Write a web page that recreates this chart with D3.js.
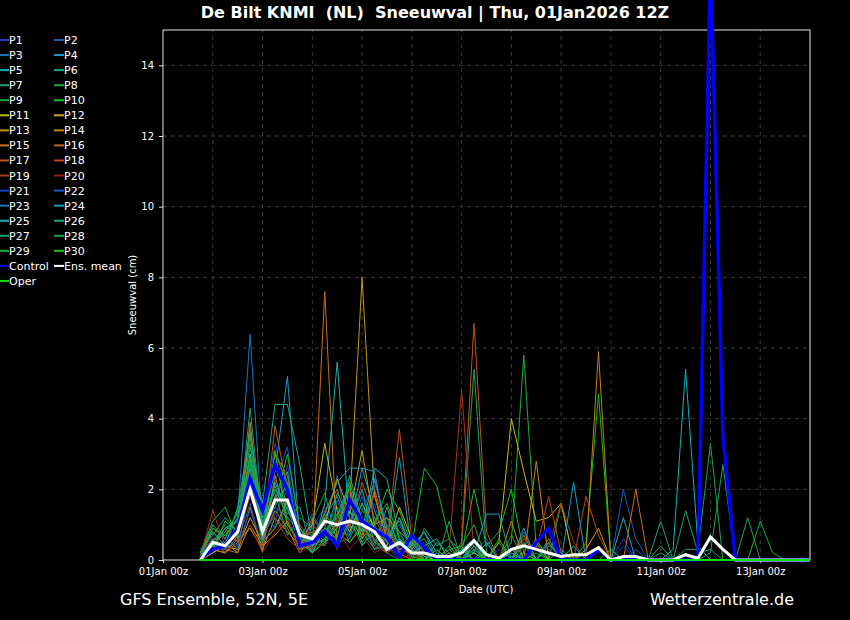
<!DOCTYPE html>
<html lang="nl">
<head>
<meta charset="UTF-8">
<title>De Bilt KNMI Sneeuwval</title>
<script src="https://cdn.jsdelivr.net/npm/d3@7"></script>
<style>
    body { margin: 0; background: #000; }
    #chart svg { display: block; background: #000; }
    svg text { font-family: "DejaVu Sans", "Liberation Sans", sans-serif; fill: #fff; }
    .grid line { stroke: #3a3a3a; stroke-dasharray: 4,4; }
    .axis path { display: none; }
    .axis line { stroke: #ddd; }
    .axis text { font-size: 10px; fill: #fff; }
</style>
</head>
<body>
<div id="chart"></div>
<script>
"use strict";

// 6-hourly steps, first value 01Jan 18z
var startTime = Date.UTC(2026, 0, 1, 18);
var stepCount = 50;

var memberNames = ['P1','P2','P3','P4','P5','P6','P7','P8','P9','P10',
                   'P11','P12','P13','P14','P15','P16','P17','P18','P19','P20',
                   'P21','P22','P23','P24','P25','P26','P27','P28','P29','P30'];

var memberColors = ['#1a3cc0','#1a58c0','#1a74b8','#1a9cc4','#18b0b4','#18a886','#18a266','#18a448','#18b032','#12c21a',
                    '#c2ba18','#c4a418','#c49412','#c48214','#c47212','#c46212','#c45414','#c44420','#a83622','#962014',
                    '#1a3cc0','#1a58c0','#1a74b8','#1a9cc4','#18b0b4','#18a886','#18a266','#18a448','#18b032','#12c21a'];

var p1  = [0.1,0.6,0.3,0.9,2.2,1.0,3.3,1.8,0.4,0.9, 1.5,0.6,1.9,1.2,0.5,0.2,0.6,0.1,0.3,0, 0,0,0.3,0,0,0.2,0,0,0,0, 0,0,0,0,0.6,0,0,0,0,0, 0,0,0,0,0,0,0,0,0,0];
var p2  = [0.2,0.4,0.8,0.5,1.6,0.3,2.2,3.2,0.8,0.2, 0.9,2.4,0.7,1.8,0.9,0.4,0.1,0.5,0,0, 0,0.2,0,0,0.1,0,0.8,0,0.3,0, 0,0,0.4,0,2.0,0.6,0,0,0,0, 0,0,0,0,0,0,0,0,0,0];
var p3  = [0.1,0.3,0.5,1.2,6.4,0.8,1.5,1.2,0.3,1.0, 0.6,1.3,2.0,0.4,0.8,0.2,0,0.6,0,0, 0.2,0,0,0,0,0,0,0.4,0,0, 0,0,0,0,0,0,0,0,0,0, 0,0,0,0,0,0,0,0,0,0];
var p4  = [0.2,0.5,0.2,0.7,3.0,1.2,2.5,5.2,0.6,0.4, 1.2,1.8,0.9,2.6,1.4,0.5,2.9,0.2,0.4,0, 0,0.3,0.6,0,0,0,0.2,0,0,0, 0,0,0,0,0,0,0,0,0,0, 0,0,0,0,0,0,0,0,0,0];
var p5  = [0.1,0.8,0.4,1.0,2.6,0.5,1.8,2.0,0.9,0.3, 1.6,5.6,1.0,0.6,2.3,0.9,0.3,0.4,0.8,0.2, 0,0,0.2,0,0,0,0,0,0,0, 0.4,0,0,0,1.2,0,0,0,0.3,5.4, 0.4,0,0,0,0,0,0,0,0,0];
var p6  = [0.2,1.0,0.6,1.4,3.2,1.6,4.4,4.4,2.7,0.5, 0.8,1.2,2.2,1.0,0.4,1.5,0.2,0.7,0,0.3, 0,0.4,0,0.2,0,0,0.5,0,0,0, 0,0,0,0,0,0,0,0,0,0, 0,0,0,0,0,0,0,0,0,0];
var p7  = [0.3,0.7,1.2,0.8,4.3,0.9,2.0,1.3,1.5,0.2, 0.5,0.9,1.6,0.8,0.3,0.7,1.1,0.3,0.1,0, 0.3,0.4,5.4,0.2,0,0.3,0,0,0.6,0, 0,0,0,0,0,0,0,0,0,0, 0,0.2,2.7,0,0,0,0,0,0,0];
var p8  = [0.1,0.5,0.9,1.1,3.5,1.3,2.8,1.5,0.4,1.1, 1.9,0.5,0.6,1.4,1.0,0.3,0.6,0,0.9,0.4, 0.6,0,0.3,0,0.5,0,0.2,0,0,0.3, 0,0,0,0,0,0,0,0.2,0,0.3, 0.3,3.3,0,0,0,0,0,0,0,0];
var p9  = [0.2,1.1,1.5,0.6,2.8,0.7,3.0,2.2,0.5,0.8, 0.4,1.5,1.0,2.0,0.7,1.2,0.4,0.6,0.2,0, 0.3,0,0.6,0,0,0.5,5.8,0.3,0,1.6, 0,0,0,0,0,0,0,0,0,0, 0,0,0,0,0,0,0,0,0,0];
var p10 = [0.1,0.4,0.8,1.3,2.4,1.1,1.6,3.0,0.9,0.5, 0.9,0.7,1.4,0.5,1.0,2.0,1.4,0.4,2.6,2.1, 0.6,0.2,2.0,0.4,0.8,2.0,0.2,0,0.4,0.2, 0,0.5,4.7,0,0,0,0,0,0,0, 0,0,0,0,0,0,0,0,0,0];
var p11 = [0,0.2,0.4,0.3,1.2,0.5,0.9,1.7,0.6,1.0, 3.3,1.4,0.8,1.6,0.9,0.4,1.5,0.6,0.3,0, 0,0,0.2,0,0.5,4.0,2.5,1.1,1.2,1.6, 0,0,0,0,0,0,0,0,0,0, 0,0,0,0,0,0,0,0,0,0];
var p12 = [0.1,0.3,0.2,0.5,0.9,0.3,1.2,0.8,0.4,0.6, 1.0,2.3,1.3,3.1,1.0,1.2,0.8,0.5,0.1,0, 0,0.3,0,0,0,0,0,0.6,0,0, 0,0.3,0.9,0,0,0,0,0,0,0, 0,0,0,0,0,0,0,0,0,0];
var p13 = [0,0.2,0.5,0.2,1.0,0.4,0.7,1.1,0.3,0.4, 0.8,0.6,1.5,8.0,1.8,0.6,0.3,0.2,0,0, 0,0,0,0,0,0,0,0,0,0, 0,0,0,0,0,0,0,0,0,0, 0,0,0,0,0,0,0,0,0,0];
var p14 = [0.1,0.3,0.2,0.6,3.9,0.6,1.4,0.9,0.2,0.7, 1.2,0.8,0.5,0.9,0.6,0.2,0.5,0.1,0,0, 0,0,0.4,0,0,1.1,0,2.8,0,0, 0,0.2,5.9,0,0,0,0,0,0,0, 0,0,0,0,0,0,0,0,0,0];
var p15 = [0,0.4,0.3,0.2,1.5,0.2,2.4,1.0,0.5,0.3, 7.6,0.4,1.1,0.7,1.9,0.5,0.2,0,0,0, 0,0,0,0,0,0,0,0,0.5,0, 0,0,0,0,0,2.0,0,0,0,0, 0,0,0,0,0,0,0,0,0,0];
var p16 = [0.2,0.9,0.6,0.4,2.0,0.8,3.0,2.4,0.3,1.2, 0.7,1.0,1.8,0.6,2.0,0.8,0.3,0.4,0,0, 0,0,0.3,0,0,0,0.7,0,0,0, 0,0,0,0,0,0,0,0,0,0, 0,0,0,0,0,0,0,0,0,0];
var p17 = [0.1,0.3,0.9,0.5,3.8,0.6,3.8,2.0,0.6,0.2, 1.4,2.0,0.9,2.2,1.2,0.5,3.7,0.6,0,0, 0,0.5,6.7,0.8,0,0,0,0,0,0, 0,0,0,0,0,0,0,0,0,0, 0,0,0,0,0,0,0,0,0,0];
var p18 = [0.2,0.6,0.2,1.0,2.5,0.4,1.8,1.6,1.0,0.5, 0.4,1.1,2.0,0.8,0.6,1.0,0.2,0,0.3,0, 0.2,0,0,0,0,0,0.6,0.3,1.8,0.2, 0,1.8,0.7,0,0,0,0,0,0,0, 0,0,0,0,0,0,0,0,0,0];
var p19 = [0.1,1.4,0.4,0.7,1.8,0.9,1.2,0.6,0.3,0.9, 1.0,0.3,1.6,1.1,0.4,0.2,0.5,0,0,0, 0.3,4.8,0.2,0,0,0,0,0,0.4,1.6, 0.5,0,0,0,0,0,0,0,0,0, 0,0,0,0,0,0,0,0,0,0];
var p20 = [0,0.7,0.3,0.4,1.0,0.2,0.8,1.2,0.2,0.4, 0.6,0.9,0.3,0.7,0.2,0.4,0,0.2,0,0, 0,0,0,0,0,0,0,0,0,0, 0,0,0,0,0,0,0,0,0,0, 0,0,0,0,0,0,0,0,0,0];
var p21 = [0.1,0.3,0.6,0.4,1.4,0.5,1.0,2.7,0.7,0.3, 1.1,0.5,1.2,0.9,1.6,0.3,0.7,0.2,0.5,0, 0,0.2,0,0,0.3,0,0,0,0.5,0, 0,0,0,0,0.4,0,0,0,0,0, 0,0,0,0,0,0,0,0,0,0];
var p22 = [0.2,0.5,0.3,0.8,1.9,0.7,1.3,2.0,0.3,0.6, 0.5,1.7,0.6,1.4,2.2,1.0,0.3,0.6,0,0.2, 0,0,0.2,0.6,0,0,0,0,0,0, 0,0,0,0,0,0.3,0,0,0,0, 0,0,0,0,0,0,0,0,0,0];
var p23 = [0.1,0.6,0.7,0.3,2.1,1.4,0.9,1.5,0.6,1.3, 0.7,0.4,1.0,2.0,0.5,0.7,1.0,0.3,0,0.2, 0,0,0,0,0,0.3,0,0,0,0, 0,0,0,0,0,0,0,0,0,0, 0,0,0,0,0,0,0,0,0,0];
var p24 = [0.2,0.4,0.9,1.1,2.3,0.6,1.7,2.5,0.4,0.6, 1.3,2.2,2.6,2.6,2.5,0.6,1.2,0.3,0.8,0, 0,0.3,0.2,1.3,1.3,0,0.9,0,0.5,0, 2.2,0,0,0,0,0,0,0,0,0, 0,0,0,0,0,0,0,0,0,0];
var p25 = [0.1,0.3,0.5,0.9,3.0,0.8,2.2,1.4,0.9,0.4, 0.6,1.0,1.4,0.8,2.6,2.3,0.6,0.2,0.4,0.6, 0,0.3,0,0.5,0,0.2,0,0,0,0, 0,0,0,0,0,0,0,0,0,0, 0,0,0,0,0,0,0,0,0,0];
var p26 = [0.2,0.8,0.4,1.5,3.6,1.0,2.1,1.2,0.8,0.2, 0.9,0.6,2.4,1.1,0.3,0.4,1.2,0.3,0,0.5, 0.2,0,0.4,0,0,0.3,0,0.5,0,0, 0,0,0,0,0,0,0,0.4,0,0, 0,0,0,0,0,0,0,0,0,0];
var p27 = [0.1,0.5,1.0,0.6,2.7,1.5,1.9,0.7,1.2,0.9, 0.5,1.9,1.2,0.4,0.9,0.5,0.4,0.7,0.2,0, 1.1,0,0.5,0,0,0.2,0,0,0,0, 0,0,0,0,0,0,0,1.1,0,1.4, 0.2,0.3,0,0,0,0,0,0,0,0];
var p28 = [0.2,0.4,0.3,1.0,3.3,0.9,2.6,1.9,0.6,0.5, 1.3,0.8,0.7,1.6,0.5,0.3,0.8,0.1,0,0.3, 0,0,0.3,0,0,0,0.4,0,0,0, 0,0,0,0,0,0,0,0,0,0, 0,0,0,0,1.2,0,0,0,0,0];
var p29 = [0.1,0.9,0.7,1.2,2.9,1.2,1.5,2.2,0.3,0.7, 0.8,1.3,0.5,1.0,1.2,0.9,0.5,0.4,0.6,0, 0,0.4,1.0,0,0,0.7,0,0,0,0, 0,0,0,0,0,0,0,0,0,0, 0,0,0,0,0,1.1,0.2,0,0,0];
var p30 = [0,0.3,1.1,0.8,2.2,0.5,3.1,1.0,0.5,0.2, 0.6,0.9,2.1,0.6,1.1,1.6,0.6,0.3,0,0, 0.4,0,0.2,0,0.6,0,0,0.2,0,0, 0,0,0,0.3,0,0,0,0,0,0, 0,0,0,0,0,0,0,0,0,0];

var controlValues = [0.05,0.3,0.4,0.9,2.3,1.4,2.7,2.0,0.4,0.5, 0.8,0.4,1.7,1.1,0.85,0.65,0.1,0.7,0.35,0, 0,0,0,0,0,0,0,0.5,0.9,0, 0,0,0.3,0,0,0,0,0,0,0, 0,17,3.5,0,0,0,0,0,0,0];
var meanValues    = [0,0.5,0.4,0.8,2.0,0.8,1.7,1.7,0.7,0.6, 1.1,1.0,1.1,1.0,0.8,0.3,0.5,0.2,0.2,0.1, 0.1,0.2,0.55,0.15,0.05,0.3,0.4,0.3,0.2,0.1, 0.15,0.15,0.35,0,0.1,0.1,0,0,0,0.15, 0.05,0.65,0.3,0,0,0,0,0,0,0];
var operValues    = [0,0,0,0,0,0,0,0,0,0, 0,0,0,0,0,0,0,0,0,0, 0,0,0,0,0,0,0,0,0,0, 0,0,0,0,0,0,0,0,0,0, 0,0,0,0,0,0,0,0,0,0];

var memberValues = [p1,p2,p3,p4,p5,p6,p7,p8,p9,p10,p11,p12,p13,p14,p15,
                    p16,p17,p18,p19,p20,p21,p22,p23,p24,p25,p26,p27,p28,p29,p30];

var yTickValues = [0, 2, 4, 6, 8, 10, 12, 14];
var titleText = 'De Bilt KNMI  (NL)  Sneeuwval | Thu, 01Jan2026 12Z';

var times = d3.range(stepCount).map(function(i) { return new Date(startTime + i * 6 * 3600 * 1000); });

var series = memberNames.map(function(name, k)
{
    return { name: name, color: memberColors[k], width: 1, values: memberValues[k] };
});
series.push({ name: 'Control',   color: '#0000ff', width: 3.5, values: controlValues });
series.push({ name: 'Ens. mean', color: '#ffffff', width: 3,   values: meanValues });
series.push({ name: 'Oper',      color: '#00e000', width: 2,   values: operValues });

var W = 850, H = 620;
var margin = { top: 30, right: 40, bottom: 60, left: 163 };

var svg = d3.select('#chart').append('svg')
    .attr('width', W)
    .attr('height', H);

var x = d3.scaleUtc()
    .domain([new Date(Date.UTC(2026, 0, 1)), new Date(Date.UTC(2026, 0, 14))])
    .range([margin.left, W - margin.right]);

var y = d3.scaleLinear()
    .domain([0, 15])
    .range([H - margin.bottom, margin.top]);

// grid
var grid = svg.append('g').attr('class', 'grid');
grid.selectAll('line.h').data(yTickValues.slice(1))
    .enter().append('line')
    .attr('x1', x.range()[0]).attr('x2', x.range()[1])
    .attr('y1', function(d) { return y(d); })
    .attr('y2', function(d) { return y(d); });
grid.selectAll('line.v').data(d3.utcDay.range(x.domain()[0], x.domain()[1]).slice(1))
    .enter().append('line')
    .attr('y1', y.range()[0]).attr('y2', y.range()[1])
    .attr('x1', function(d) { return x(d); })
    .attr('x2', function(d) { return x(d); });

// axes
svg.append('g')
    .attr('class', 'axis')
    .attr('transform', 'translate(' + margin.left + ',0)')
    .call(d3.axisLeft(y).tickValues(yTickValues).tickSize(4).tickPadding(5).tickFormat(d3.format('d')));

svg.append('g')
    .attr('class', 'axis')
    .attr('transform', 'translate(0,' + (H - margin.bottom) + ')')
    .call(d3.axisBottom(x).ticks(d3.utcDay.every(2)).tickSize(3).tickPadding(5)
        .tickFormat(d3.utcFormat('%dJan %Hz')));

// frame
svg.append('rect')
    .attr('x', x.range()[0]).attr('y', y.range()[1])
    .attr('width', x.range()[1] - x.range()[0])
    .attr('height', y.range()[0] - y.range()[1])
    .attr('fill', 'none')
    .attr('stroke', '#e8e8e8')
    .attr('stroke-width', 1);

// lines
var line = d3.line()
    .x(function(d, i) { return x(times[i]); })
    .y(function(d) { return y(d); });

svg.append('g').selectAll('path').data(series)
    .enter().append('path')
    .attr('fill', 'none')
    .attr('stroke', function(d) { return d.color; })
    .attr('stroke-width', function(d) { return d.width; })
    .attr('stroke-linejoin', 'miter')
    .attr('d', function(d) { return line(d.values); });

// legend (two columns)
var legend = svg.append('g').attr('class', 'legend');
var items = legend.selectAll('g').data(series)
    .enter().append('g')
    .attr('transform', function(d, i)
    {
        var col = i % 2, row = Math.floor(i / 2);
        return 'translate(' + (col * 55) + ',' + (40 + row * 15.06) + ')';
    });
items.append('line')
    .attr('x1', -1).attr('x2', 9)
    .attr('stroke', function(d) { return d.color; })
    .attr('stroke-width', 2);
items.append('text')
    .attr('x', 9).attr('y', 4)
    .style('font-size', '11px')
    .text(function(d) { return d.name; });

// texts
svg.append('text')
    .attr('x', 435).attr('y', 18)
    .attr('text-anchor', 'middle')
    .style('font-size', '16px').style('font-weight', 'bold')
    .style('white-space', 'pre')
    .text(titleText);

svg.append('text')
    .attr('transform', 'translate(136,' + y(7.5) + ') rotate(-90)')
    .attr('text-anchor', 'middle')
    .style('font-size', '10px')
    .text('Sneeuwval (cm)');

svg.append('text')
    .attr('x', 486).attr('y', 593)
    .attr('text-anchor', 'middle')
    .style('font-size', '10px')
    .text('Date (UTC)');

svg.append('text')
    .attr('x', 120).attr('y', 605)
    .style('font-size', '16px')
    .text('GFS Ensemble, 52N, 5E');

svg.append('text')
    .attr('x', 794).attr('y', 605)
    .attr('text-anchor', 'end')
    .style('font-size', '16px')
    .text('Wetterzentrale.de');
</script>
</body>
</html>
